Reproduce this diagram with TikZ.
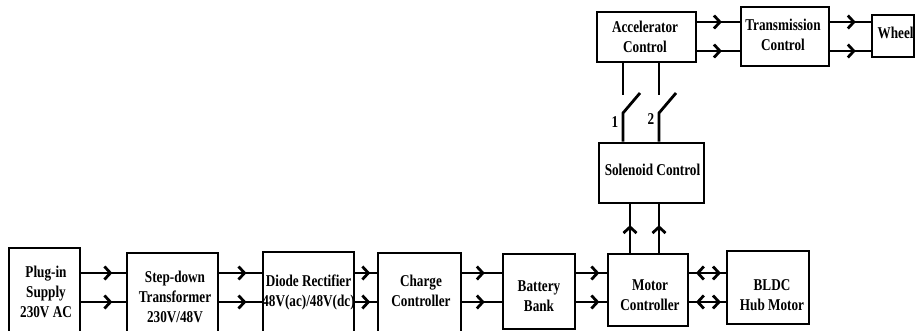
\documentclass[tikz,border=0pt]{standalone}
\usepackage{fontspec}
\setmainfont{Liberation Serif}[FakeStretch=0.8]
\usetikzlibrary{arrows.meta,decorations.markings}
\tikzset{
  box/.style={draw, line width=2.8pt, rectangle, inner sep=0pt},
  lbl/.style={font=\fontsize{16.5}{20}\selectfont\bfseries, align=center, inner sep=0pt},
  num/.style={font=\fontsize{16.5}{19}\selectfont\bfseries, inner sep=0pt},
  wire/.style={line width=2.8pt},
  chev/.tip={Straight Barb[length=6pt,width=13pt]},
  midarr/.style={wire, postaction={decorate, decoration={markings,
     mark=at position #1 with {\arrow{chev}}}}},
  biarr/.style={wire, postaction={decorate, decoration={markings,
     mark=at position 0.18 with {\arrowreversed{chev}},
     mark=at position 0.87 with {\arrow{chev}}}}}
}
\begin{document}
\begin{tikzpicture}[x=1pt,y=-1pt]
\useasboundingbox (0,0) rectangle (916,330);
\clip (0,0) rectangle (916,330);
\fill[white] (0,0) rectangle (916,330);
% rows
\coordinate (rA) at (0,273);
\coordinate (rB) at (0,302);
\coordinate (tA) at (0,22);
\coordinate (tB) at (0,51);
% boxes
\node[box, minimum width=71pt, minimum height=90pt] (ps) at (44.5,293) {};
\node[box, minimum width=91pt, minimum height=88pt] (sd) at (172.5,297) {};
\node[box, minimum width=91pt, minimum height=80pt] (dr) at (308.5,292) {};
\node[box, minimum width=83pt, minimum height=80pt] (cc) at (419.5,293) {};
\node[box, minimum width=72pt, minimum height=75pt] (bb) at (539,291.5) {};
\node[box, minimum width=80pt, minimum height=72pt] (mc) at (648,290) {};
\node[box, minimum width=82pt, minimum height=73pt] (bl) at (768,287.5) {};
\node[box, minimum width=99pt, minimum height=50pt] (ac) at (646.5,37) {};
\node[box, minimum width=88pt, minimum height=59pt] (tc) at (785,36.5) {};
\node[box, minimum width=42pt, minimum height=42pt] (wh) at (893,36) {};
\node[box, minimum width=105pt, minimum height=60pt] (sc) at (651.5,173) {};
% labels
\node[lbl] (psT) at (46,292) {Plug-in\\Supply\\230V AC};
\node[lbl] (sdT) at (175,297) {Step-down\\Transformer\\230V/48V};
\node[lbl] (drT) at (308.5,292) {Diode Rectifier\\48V(ac)/48V(dc)};
\node[lbl] (ccT) at (421,291) {Charge\\Controller};
\node[lbl] (bbT) at (539,296) {Battery\\Bank};
\node[lbl] (mcT) at (650,295) {Motor\\Controller};
\node[lbl] (blT) at (772,295) {BLDC\\Hub Motor};
\node[lbl] (acT) at (645,37) {Accelerator\\Control};
\node[lbl] (tcT) at (783,35) {Transmission\\Control};
\node[lbl, anchor=west] (whT) at (877.5,33) {Wheel};
\node[lbl] (scT) at (652.5,170) {Solenoid Control};
% horizontal connectors
\foreach \r in {rA,rB}{
  \draw[midarr=0.70] (ps.east |- \r) -- (sd.west |- \r);
  \draw[midarr=0.64] (sd.east |- \r) -- (dr.west |- \r);
  \draw[midarr=0.70] (dr.east |- \r) -- (cc.west |- \r);
  \draw[midarr=0.57] (cc.east |- \r) -- (bb.west |- \r);
  \draw[midarr=0.76] (bb.east |- \r) -- (mc.west |- \r);
  \draw[biarr] (mc.east |- \r) -- (bl.west |- \r);
}
\foreach \r in {tA,tB}{
  \draw[midarr=0.58] (ac.east |- \r) -- (tc.west |- \r);
  \draw[midarr=0.63] (tc.east |- \r) -- (wh.west |- \r);
}
% vertical arrows motor -> solenoid
\coordinate (v1) at (630,0);
\coordinate (v2) at (659,0);
\draw[midarr=0.57] (mc.north -| v1) -- (sc.south -| v1);
\draw[midarr=0.57] (mc.north -| v2) -- (sc.south -| v2);
% switches
\coordinate (s1a) at (623,95);
\coordinate (s1b) at (623,113);
\coordinate (s1c) at (640,93);
\coordinate (s2a) at (659,95);
\coordinate (s2b) at (659,113);
\coordinate (s2c) at (676,93);
\draw[wire] (ac.south -| s1a) -- (s1a);
\draw[wire] (sc.north -| s1b) -- (s1b) -- (s1c);
\draw[wire] (ac.south -| s2a) -- (s2a);
\draw[wire] (sc.north -| s2b) -- (s2b) -- (s2c);
\node[num] (n1) at (615,122) {1};
\node[num] (n2) at (651,119) {2};
\end{tikzpicture}
\end{document}
